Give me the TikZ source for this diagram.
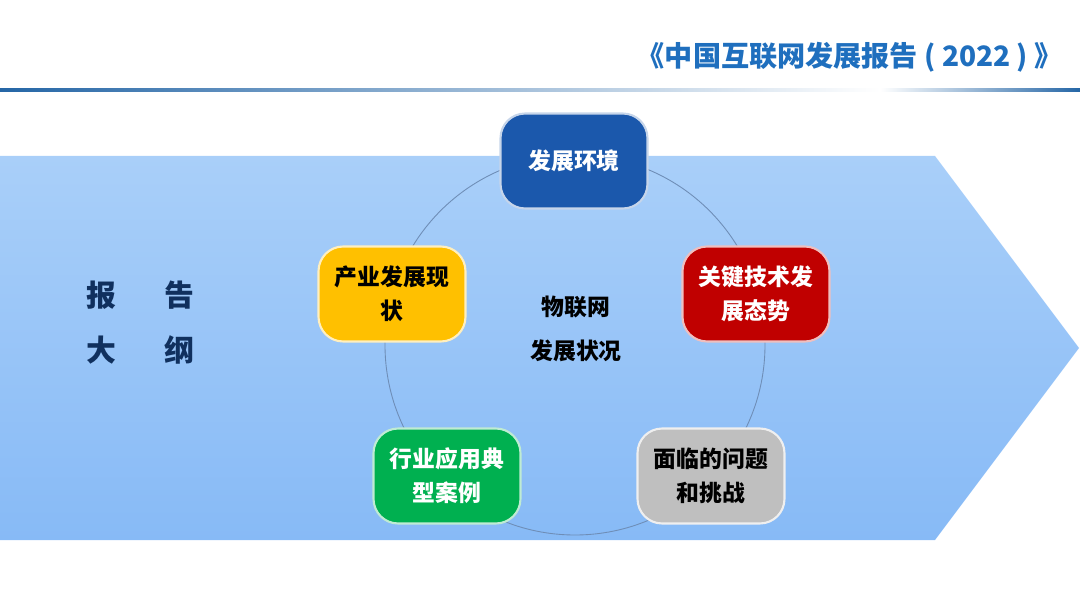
\documentclass[tikz,border=0pt]{standalone}
\usepackage{fontspec}
\setmainfont{Noto Sans CJK SC}
\usetikzlibrary{shadings}
\definecolor{arrowtop}{HTML}{A9CFF9}
\definecolor{arrowbot}{HTML}{87BAF6}
\definecolor{linedark}{HTML}{2566A6}
\definecolor{titleblue}{HTML}{1F6FBE}
\definecolor{navy}{HTML}{10305E}
\definecolor{envblue}{HTML}{1B58AC}
\definecolor{sunyellow}{HTML}{FFC000}
\definecolor{deepred}{HTML}{C00000}
\definecolor{leafgreen}{HTML}{00B050}
\definecolor{softgray}{HTML}{BFBFBF}
\definecolor{ringline}{HTML}{6E8DB6}
\begin{document}
\begin{tikzpicture}[x=0.02cm, y=-0.02cm,
    every node/.style={font=\bfseries},
    topic/.style={rounded corners=14pt, draw=white!75!#1, line width=1.2pt, fill=#1,
        minimum width=2.94cm, minimum height=1.9cm, text width=2.6cm, align=center,
        font=\bfseries\fontsize{13}{19.5}\selectfont}]
\useasboundingbox (0,0) rectangle (1080,608);
% header
\node[anchor=east, text=titleblue, font=\bfseries\fontsize{16}{18}\selectfont] (title) at (1069,57) {《中国互联网发展报告 ( 2022 ) 》};
\shade[left color=linedark, right color=white] (0,88.5) rectangle (880,91.5);
\shade[left color=white, right color=linedark] (880,88.5) rectangle (1080,91.5);
% background arrow
\shade[top color=arrowtop, bottom color=arrowbot] (0,156) -- (935,156) -- (1079,348) -- (935,540) -- (0,540) -- cycle;
% left labels
\foreach \t/\px/\py in {报/101/295, 告/179/295, 大/101/350, 纲/179/350} {
    \node[text=navy, font=\bfseries\fontsize{17}{20}\selectfont] at (\px,\py) {\t};
}
% ring and centre
\draw[ringline, line width=0.5pt] (575,345) circle (190);
\node[align=center, font=\bfseries\fontsize{13}{25}\selectfont] (core) at (576,329) {物联网\\发展状况};
% five topics
\foreach \n/\px/\py/\c/\tc/\lab in {env/574/161/envblue/white/{发展环境},
    tech/756/294/deepred/white/{关键技术发\\展态势},
    issue/711/476/softgray/black/{面临的问题\\和挑战},
    case/447/476/leafgreen/white/{行业应用典\\型案例},
    ind/392/294/sunyellow/black/{产业发展现\\状}} {
    \node[topic=\c, text=\tc] (\n) at (\px,\py) {\lab};
}
\end{tikzpicture}
\end{document}
